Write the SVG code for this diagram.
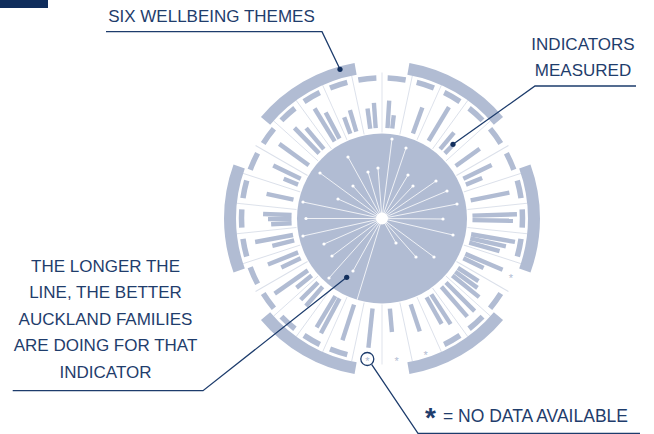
<svg xmlns="http://www.w3.org/2000/svg" width="654" height="434" viewBox="0 0 654 434">
<style>
.bar{stroke:#b1bcd3;stroke-width:4.4;fill:none}
.spoke{stroke:#dbe0ea;stroke-width:0.9;fill:none}
.dashes{stroke:#b1bcd3;stroke-width:5.5;fill:none}
.themes{stroke:#b1bcd3;stroke-width:12;fill:none}
.val{stroke:#ffffff;stroke-width:0.8}
.vdot{fill:#ffffff}
.lead{stroke:#1d3c6c;stroke-width:1.3;fill:none}
.ldot{fill:#13305e}
.lbl{font-family:"Liberation Sans",Arial,sans-serif;font-size:17px;fill:#1f3d6c}
.star{font-family:"Liberation Sans",Arial,sans-serif;font-size:11px;fill:#b1bcd3;text-anchor:middle}
</style>
<defs>
<path id="dash" d="M -9.07 -140.21 A 140.5 140.5 0 0 1 9.07 -140.21"/>
<path id="arc" d="M -51.99 -142.83 A 152 152 0 0 1 51.99 -142.83"/>
<line id="spk" x1="0" y1="-86" x2="0" y2="-146"/>
</defs>
<rect x="0" y="0" width="48" height="8" fill="#0f2d5c"/>
<g id="chart" transform="translate(382 218.5)">
<g id="spokes" class="spoke">
<use href="#spk" transform="rotate(0)"/><use href="#spk" transform="rotate(12)"/><use href="#spk" transform="rotate(24)"/><use href="#spk" transform="rotate(36)"/><use href="#spk" transform="rotate(48)"/><use href="#spk" transform="rotate(60)"/><use href="#spk" transform="rotate(72)"/><use href="#spk" transform="rotate(84)"/><use href="#spk" transform="rotate(96)"/><use href="#spk" transform="rotate(108)"/><use href="#spk" transform="rotate(120)"/><use href="#spk" transform="rotate(132)"/><use href="#spk" transform="rotate(144)"/><use href="#spk" transform="rotate(156)"/><use href="#spk" transform="rotate(168)"/><use href="#spk" transform="rotate(180)"/><use href="#spk" transform="rotate(192)"/><use href="#spk" transform="rotate(204)"/><use href="#spk" transform="rotate(216)"/><use href="#spk" transform="rotate(228)"/><use href="#spk" transform="rotate(240)"/><use href="#spk" transform="rotate(252)"/><use href="#spk" transform="rotate(264)"/><use href="#spk" transform="rotate(276)"/><use href="#spk" transform="rotate(288)"/><use href="#spk" transform="rotate(300)"/><use href="#spk" transform="rotate(312)"/><use href="#spk" transform="rotate(324)"/><use href="#spk" transform="rotate(336)"/><use href="#spk" transform="rotate(348)"/>
</g>
<g id="themes" class="themes" stroke-linejoin="round">
<use href="#arc" transform="rotate(330)"/><use href="#arc" transform="rotate(30)"/><use href="#arc" transform="rotate(90)"/><use href="#arc" transform="rotate(150)"/><use href="#arc" transform="rotate(210)"/><use href="#arc" transform="rotate(270)"/>
</g>
<g id="indicator-dashes" class="dashes">
<use href="#dash" transform="rotate(6)"/><use href="#dash" transform="rotate(18)"/><use href="#dash" transform="rotate(30)"/><use href="#dash" transform="rotate(42)"/><use href="#dash" transform="rotate(54)"/><use href="#dash" transform="rotate(66)"/><use href="#dash" transform="rotate(78)"/><use href="#dash" transform="rotate(90)"/><use href="#dash" transform="rotate(102)"/><use href="#dash" transform="rotate(126)"/><use href="#dash" transform="rotate(138)"/><use href="#dash" transform="rotate(150)"/><use href="#dash" transform="rotate(198)"/><use href="#dash" transform="rotate(210)"/><use href="#dash" transform="rotate(222)"/><use href="#dash" transform="rotate(234)"/><use href="#dash" transform="rotate(246)"/><use href="#dash" transform="rotate(258)"/><use href="#dash" transform="rotate(270)"/><use href="#dash" transform="rotate(282)"/><use href="#dash" transform="rotate(294)"/><use href="#dash" transform="rotate(306)"/><use href="#dash" transform="rotate(318)"/><use href="#dash" transform="rotate(330)"/><use href="#dash" transform="rotate(342)"/><use href="#dash" transform="rotate(354)"/>
</g>
<g id="bars" class="bar">
<line y1="-90.5" y2="-118" transform="rotate(3.5)"/><line y1="-90.5" y2="-104" transform="rotate(6.5)"/>
<line y1="-90.5" y2="-118" transform="rotate(20)"/>
<line y1="-90.5" y2="-130" transform="rotate(31)"/>
<line y1="-90.5" y2="-112" transform="rotate(40)"/><line y1="-90.5" y2="-101" transform="rotate(44)"/>
<line y1="-90.5" y2="-120" transform="rotate(54.5)"/>
<line y1="-90.5" y2="-122" transform="rotate(64)"/><line y1="-90.5" y2="-108" transform="rotate(68)"/>
<line y1="-90.5" y2="-130" transform="rotate(78.5)"/>
<line y1="-90.5" y2="-135" transform="rotate(88.2)"/><line y1="-90.5" y2="-131" transform="rotate(91)"/>
<line y1="-90.5" y2="-135" transform="rotate(100)"/><line y1="-90.5" y2="-127" transform="rotate(102.7)"/><line y1="-90.5" y2="-122" transform="rotate(105.5)"/>
<line y1="-90.5" y2="-131" transform="rotate(113)"/><line y1="-90.5" y2="-113" transform="rotate(116)"/>
<line y1="-90.5" y2="-115" transform="rotate(123)"/><line y1="-90.5" y2="-118" transform="rotate(126)"/><line y1="-90.5" y2="-125" transform="rotate(129)"/>
<line y1="-90.5" y2="-131" transform="rotate(135)"/><line y1="-90.5" y2="-130" transform="rotate(139)"/>
<line y1="-90.5" y2="-126" transform="rotate(147)"/><line y1="-90.5" y2="-121" transform="rotate(150.5)"/>
<line y1="-90.5" y2="-119" transform="rotate(161.5)"/>
<line y1="-90.5" y2="-114" transform="rotate(175)"/>
<line y1="-90.5" y2="-130" transform="rotate(186)"/>
<line y1="-90.5" y2="-128" transform="rotate(198)"/>
<line y1="-90.5" y2="-130" transform="rotate(208)"/><line y1="-90.5" y2="-127" transform="rotate(211)"/>
<line y1="-90.5" y2="-116" transform="rotate(221)"/><line y1="-90.5" y2="-115" transform="rotate(225)"/>
<line y1="-90.5" y2="-110" transform="rotate(231)"/><line y1="-90.5" y2="-131" transform="rotate(235)"/>
<line y1="-90.5" y2="-112" transform="rotate(244)"/><line y1="-90.5" y2="-123" transform="rotate(248)"/>
<line y1="-90.5" y2="-113" transform="rotate(256)"/><line y1="-90.5" y2="-129" transform="rotate(259.5)"/>
<line y1="-90.5" y2="-111" transform="rotate(267)"/><line y1="-90.5" y2="-114" transform="rotate(269.7)"/><line y1="-90.5" y2="-119" transform="rotate(272.2)"/>
<line y1="-90.5" y2="-118" transform="rotate(282)"/>
<line y1="-90.5" y2="-106" transform="rotate(292)"/><line y1="-90.5" y2="-121" transform="rotate(296)"/>
<line y1="-90.5" y2="-127" transform="rotate(306)"/>
<line y1="-90.5" y2="-126" transform="rotate(316)"/><line y1="-90.5" y2="-118" transform="rotate(320)"/>
<line y1="-90.5" y2="-129" transform="rotate(328.5)"/><line y1="-90.5" y2="-120" transform="rotate(332)"/>
<line y1="-90.5" y2="-108" transform="rotate(339.5)"/><line y1="-90.5" y2="-113" transform="rotate(343.5)"/>
<line y1="-90.5" y2="-111" transform="rotate(352.5)"/><line y1="-90.5" y2="-116" transform="rotate(356)"/>
</g>
<circle id="disc" cx="0" cy="0" r="85" fill="#b1bcd3"/>
</g>
<g id="no-data-stars">
<text class="star" x="510.8" y="282.1">*</text>
<text class="star" x="425.6" y="358.9">*</text>
<text class="star" x="396.7" y="365">*</text>
<text class="star" x="367.3" y="365">*</text>
</g>
<g id="values" class="val">
<line x1="382" y1="218.5" x2="392" y2="139"/>
<line x1="382" y1="218.5" x2="406" y2="148"/>
<line x1="382" y1="218.5" x2="348" y2="157"/>
<line x1="382" y1="218.5" x2="320" y2="173"/>
<line x1="382" y1="218.5" x2="368" y2="172"/>
<line x1="382" y1="218.5" x2="378" y2="168"/>
<line x1="382" y1="218.5" x2="408" y2="175"/>
<line x1="382" y1="218.5" x2="413" y2="186"/>
<line x1="382" y1="218.5" x2="353" y2="186"/>
<line x1="382" y1="218.5" x2="338" y2="199"/>
<line x1="382" y1="218.5" x2="303" y2="202"/>
<line x1="382" y1="218.5" x2="306" y2="218.5"/>
<line x1="382" y1="218.5" x2="436" y2="181"/>
<line x1="382" y1="218.5" x2="447" y2="191"/>
<line x1="382" y1="218.5" x2="457" y2="204"/>
<line x1="382" y1="218.5" x2="443" y2="219"/>
<line x1="382" y1="218.5" x2="453" y2="235"/>
<line x1="382" y1="218.5" x2="396" y2="243"/>
<line x1="382" y1="218.5" x2="416" y2="257"/>
<line x1="382" y1="218.5" x2="434" y2="257"/>
<line x1="382" y1="218.5" x2="303" y2="236"/>
<line x1="382" y1="218.5" x2="324" y2="244"/>
<line x1="382" y1="218.5" x2="332" y2="256"/>
<line x1="382" y1="218.5" x2="353" y2="271"/>
<line x1="382" y1="218.5" x2="329" y2="278"/>
<line x1="382" y1="218.5" x2="357" y2="300"/>
</g>
<g id="value-dots" class="vdot">
<circle cx="392" cy="139" r="1.6"/><circle cx="406" cy="148" r="1.6"/><circle cx="348" cy="157" r="1.6"/><circle cx="320" cy="173" r="1.6"/><circle cx="368" cy="172" r="1.6"/><circle cx="378" cy="168" r="1.6"/><circle cx="408" cy="175" r="1.6"/><circle cx="413" cy="186" r="1.6"/><circle cx="353" cy="186" r="1.6"/><circle cx="338" cy="199" r="1.6"/><circle cx="303" cy="202" r="1.6"/><circle cx="306" cy="218.5" r="1.6"/><circle cx="436" cy="181" r="1.6"/><circle cx="447" cy="191" r="1.6"/><circle cx="457" cy="204" r="1.6"/><circle cx="443" cy="219" r="1.6"/><circle cx="453" cy="235" r="1.6"/><circle cx="396" cy="243" r="1.6"/><circle cx="416" cy="257" r="1.6"/><circle cx="434" cy="257" r="1.6"/><circle cx="303" cy="236" r="1.6"/><circle cx="324" cy="244" r="1.6"/><circle cx="332" cy="256" r="1.6"/><circle cx="353" cy="271" r="1.6"/><circle cx="329" cy="278" r="1.6"/>
<circle cx="382" cy="218.5" r="6"/>
</g>
<g id="connectors">
<polyline class="lead" points="106,31.7 322,31.7 340,69.3"/>
<circle class="ldot" cx="340" cy="69.3" r="2.6"/>
<polyline class="lead" points="636,86 535,86 453,144.3"/>
<circle class="ldot" cx="453" cy="144.3" r="2.6"/>
<polyline class="lead" points="12.7,390.7 203,390.7 346.7,277.3"/>
<circle class="ldot" cx="346.7" cy="277.3" r="2.6"/>
<polyline class="lead" points="640,433.3 418,433.3 371.6,364.4"/>
<circle class="lead" cx="367.3" cy="359" r="6.5"/>
</g>
<g id="label-themes">
<text class="lbl" x="211.5" y="22" text-anchor="middle">SIX WELLBEING THEMES</text>
</g>
<g id="label-indicators">
<text class="lbl" text-anchor="middle"><tspan x="583" y="49.5">INDICATORS</tspan><tspan x="583" y="76">MEASURED</tspan></text>
</g>
<g id="label-longer">
<text class="lbl" text-anchor="middle"><tspan x="105.5" y="271.5">THE LONGER THE</tspan><tspan x="105.5" y="298">LINE, THE BETTER</tspan><tspan x="105.5" y="324.5">AUCKLAND FAMILIES</tspan><tspan x="105.5" y="351">ARE DOING FOR THAT</tspan><tspan x="105.5" y="377.5">INDICATOR</tspan></text>
</g>
<g id="label-nodata">
<text class="lbl" y="421.7"><tspan x="425" font-size="28" font-weight="bold" dy="5.3">*</tspan><tspan x="443" font-size="17.5" dy="-5.3">= NO DATA AVAILABLE</tspan></text>
</g>
</svg>
